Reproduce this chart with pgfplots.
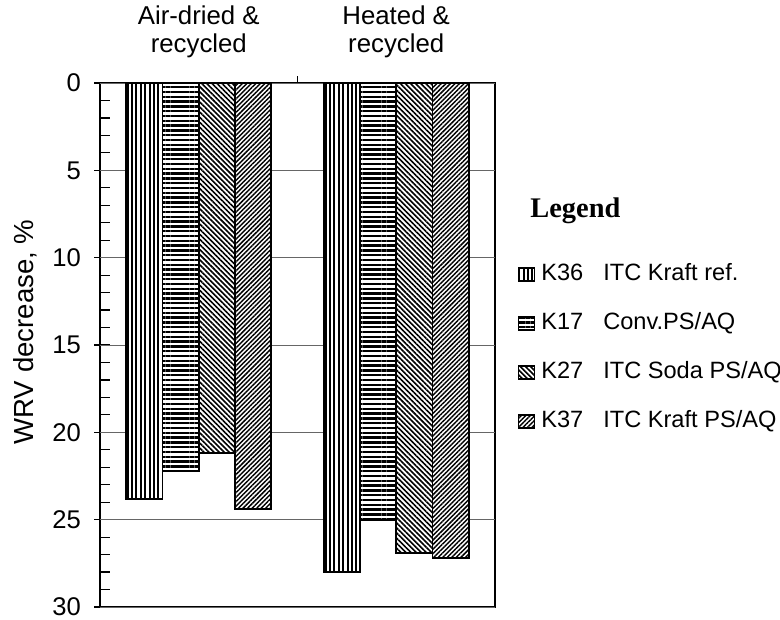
\documentclass[border=0pt]{standalone}
\usepackage{fontspec}
\setmainfont{Liberation Sans}
\newfontfamily\serifbold{Liberation Serif}
\usepackage{pgfplots}
\pgfplotsset{compat=1.18}
\usetikzlibrary{patterns.meta}

\tikzset{
  pK36/.style={draw=black, line width=0.9bp, fill=white, postaction={pattern={Lines[angle=90,distance=2.2bp,line width=1.05bp]}}},
  pK17/.style={draw=black, line width=0.9bp, fill=white, postaction={pattern={Lines[angle=0,distance=2.4bp,line width=1.2bp]}}},
  pK27/.style={draw=black, line width=0.9bp, fill=white, postaction={pattern={Lines[angle=-45,distance=1.8bp,line width=0.8bp]}}},
  pK37/.style={draw=black, line width=0.9bp, fill=white, postaction={pattern={Lines[angle=45,distance=1.6bp,line width=0.72bp]}}},
}
\pgfplotsset{myleg/.style={/pgfplots/legend image code/.code={\draw[##1] (0bp,-3.2bp) rectangle (8bp,3.2bp);}}}

\begin{document}
\begin{tikzpicture}
\path[use as bounding box] (0,0) rectangle (390bp,310bp);
\begin{axis}[
  at={(50bp,6.5bp)}, anchor=south west,
  scale only axis, width=197.5bp, height=262bp,
  xmin=0, xmax=2, ymin=0, ymax=30, y dir=reverse,
  ybar=0pt, bar width=18.1bp,
  axis line style={line width=0.8bp},
  xtick=\empty,
  xtick pos=upper,
  extra x ticks={1}, extra x tick labels={},
  extra x tick style={tick align=outside, major tick length=3.5bp},
  ytick={0,5,...,30}, minor y tick num=4,
  ytick pos=left,
  tick align=inside, major tick length=5bp, minor tick length=5bp,
  tick style={black, line width=0.6bp},
  extra y ticks={0,5,...,30}, extra y tick labels={},
  extra y tick style={tick align=outside, major tick length=3bp},
  ymajorgrids, grid style={black!60, line width=0.5bp},
  /pgf/number format/assume math mode=true,
  yticklabel style={font=\fontsize{12.8bp}{14bp}\selectfont, xshift=-6bp},
  legend style={draw=none, fill=none, at={(1.056,0.656)}, anchor=north west, inner sep=0pt,
    row sep=13.5bp, column sep=3bp, font=\fontsize{11.8bp}{14bp}\selectfont,
    nodes={inner sep=0pt, text height=8.5bp, text depth=2.5bp, anchor=west}},
  legend cell align=left,
]
\addplot[pK36, myleg] coordinates {(0.5,23.8) (1.5,28.0)};
\addlegendentry{\makebox[31bp][l]{K36}ITC Kraft ref.}
\addplot[pK17, myleg] coordinates {(0.5,22.2) (1.5,25.0)};
\addlegendentry{\makebox[31bp][l]{K17}Conv.PS/AQ}
\addplot[pK27, myleg] coordinates {(0.5,21.2) (1.5,26.9)};
\addlegendentry{\makebox[31bp][l]{K27}ITC Soda PS/AQ}
\addplot[pK37, myleg] coordinates {(0.5,24.4) (1.5,27.2)};
\addlegendentry{\makebox[31bp][l]{K37}ITC Kraft PS/AQ}
\end{axis}
\begin{scope}[every node/.style={inner sep=0pt, font=\fontsize{12.9bp}{14bp}\selectfont}]
\node[anchor=base] at (99.4bp,297.5bp) {Air-dried \&};
\node[anchor=base] at (99.4bp,283.5bp) {recycled};
\node[anchor=base] at (198.1bp,297.5bp) {Heated \&};
\node[anchor=base] at (198.1bp,283.5bp) {recycled};
\end{scope}
\node[rotate=90, inner sep=0pt, font=\fontsize{13.8bp}{16bp}\selectfont] at (12.5bp,144bp) {WRV decrease, \%};
\node[anchor=base west, inner sep=0pt, font=\serifbold\bfseries\fontsize{14.2bp}{16bp}\selectfont] at (265bp,201bp) {Legend};
\end{tikzpicture}
\end{document}
